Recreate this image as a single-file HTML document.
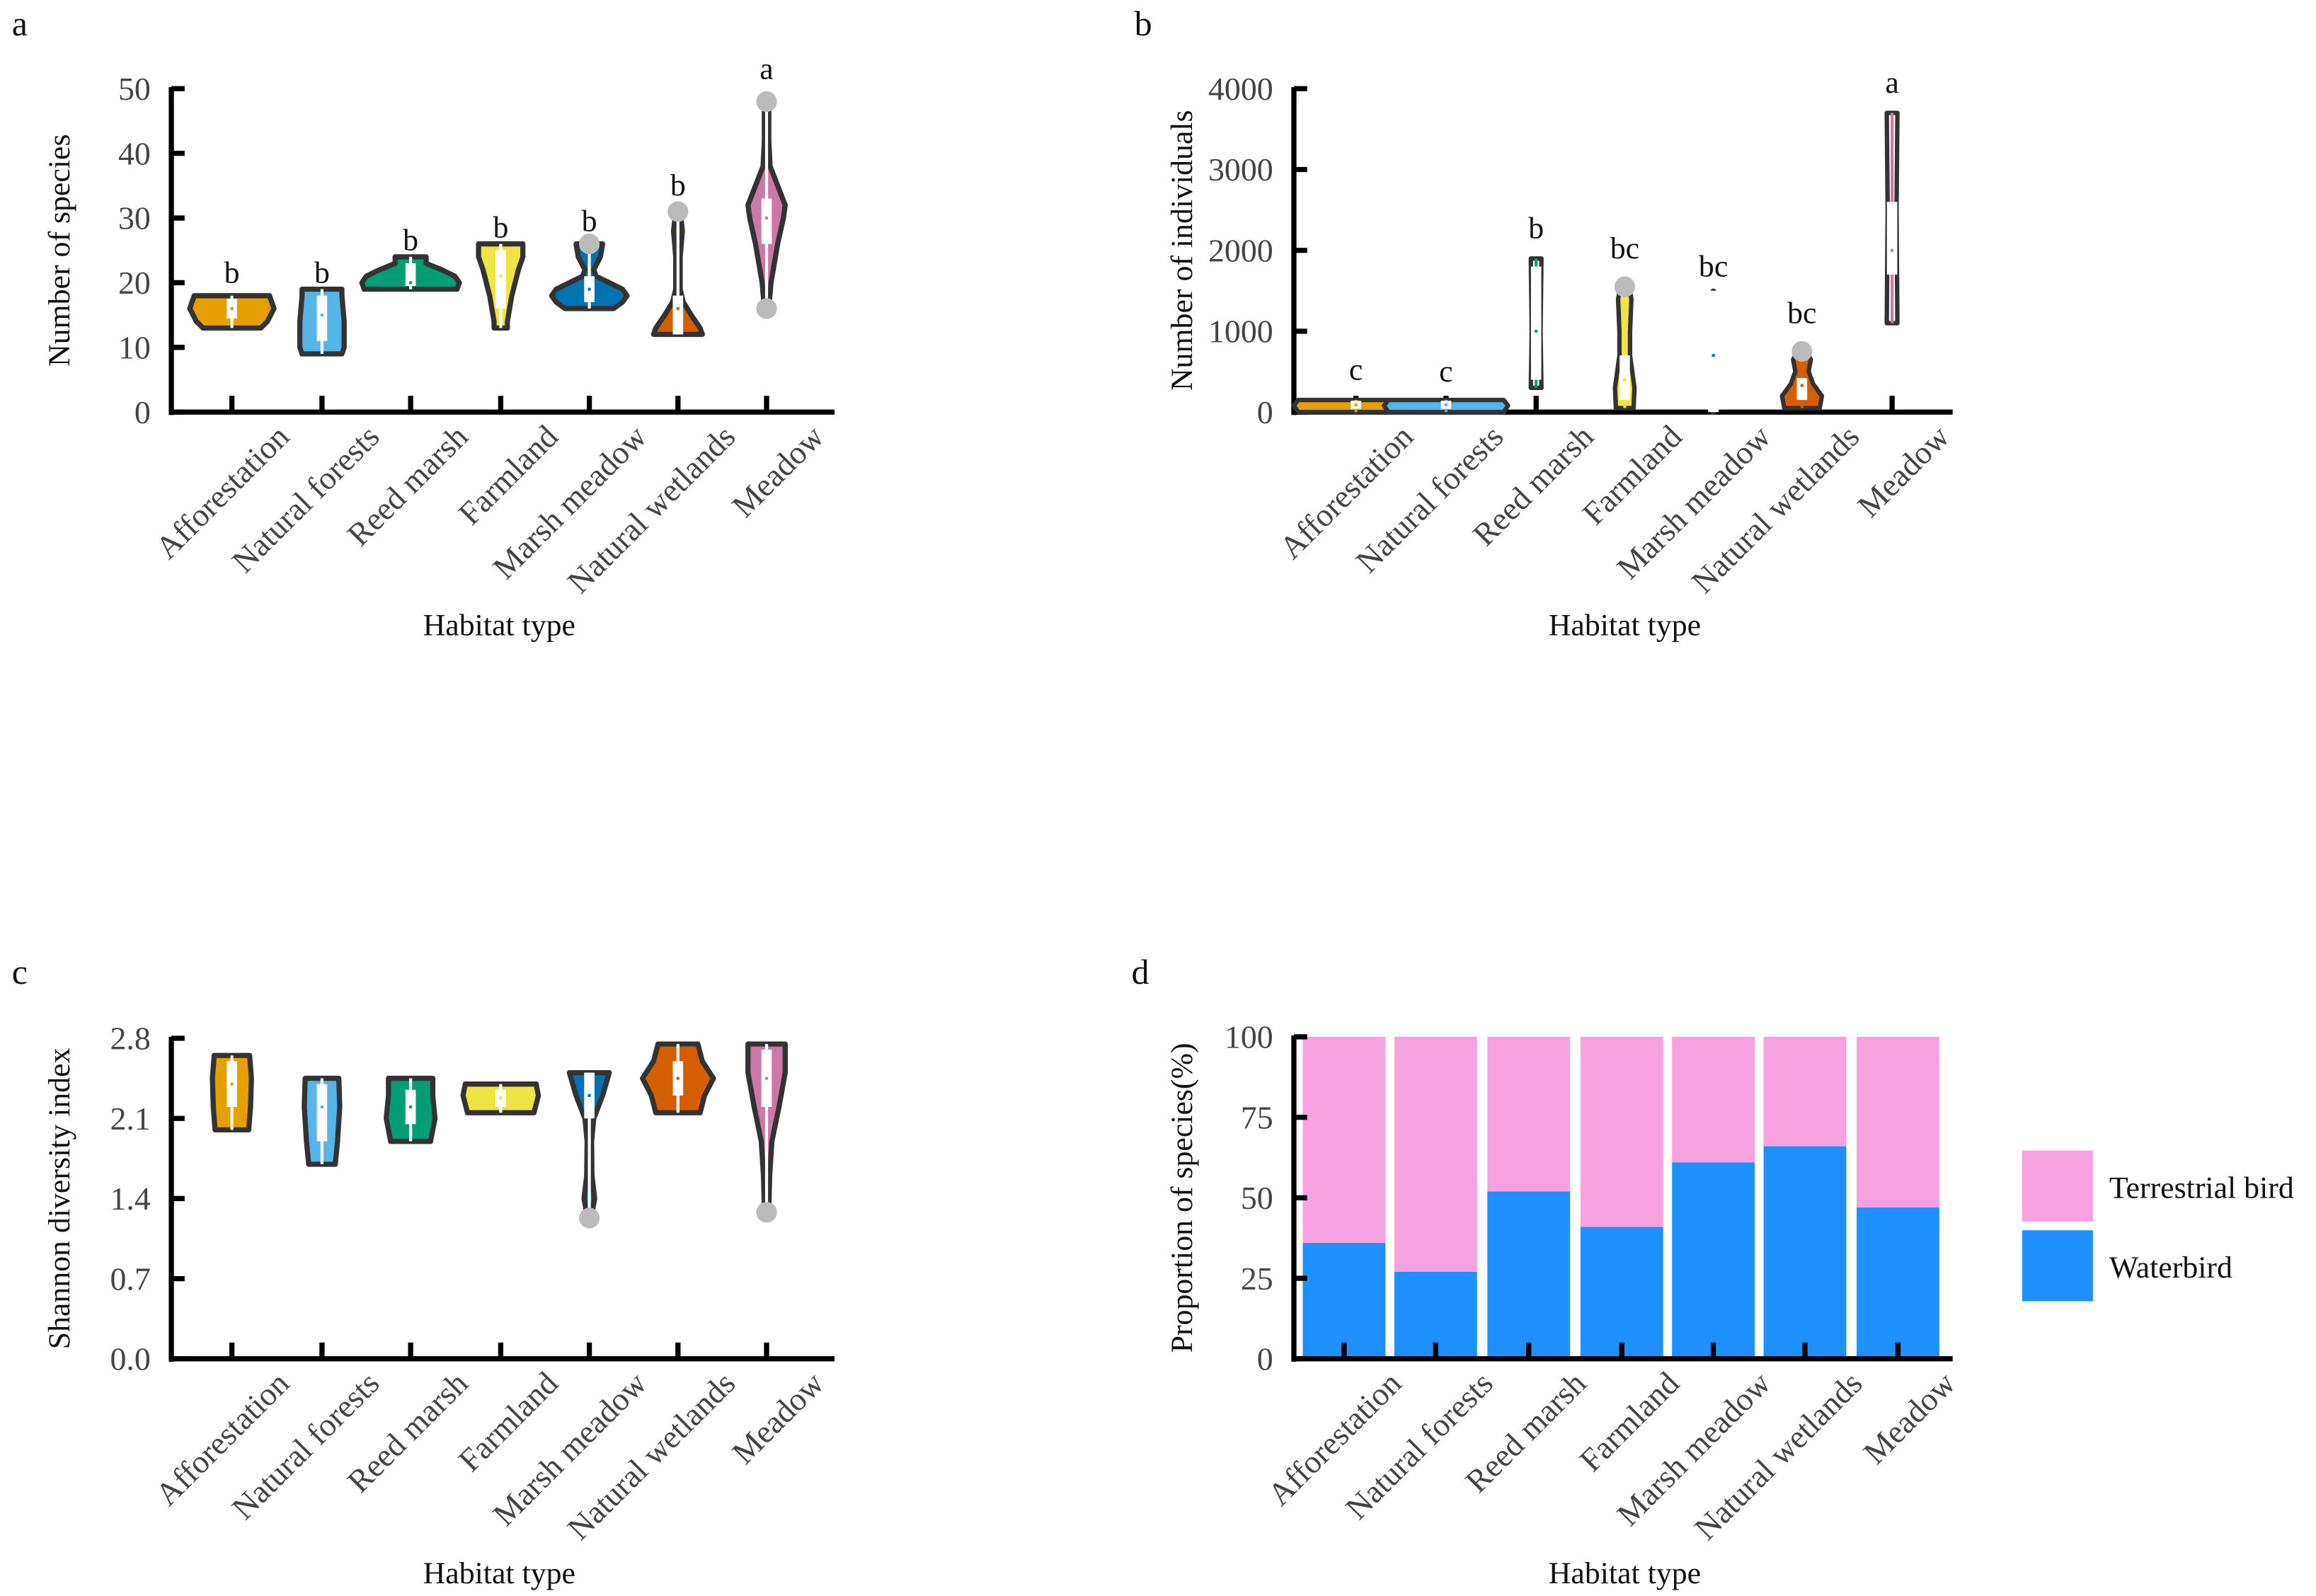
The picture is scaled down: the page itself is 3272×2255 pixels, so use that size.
<!DOCTYPE html>
<html><head><meta charset="utf-8"><style>
html,body{margin:0;padding:0;background:#fff;}
svg{display:block;font-family:"Liberation Serif",serif;}
</style></head><body>
<svg id="fig" width="3272" height="2255" viewBox="0 0 1568 1080.6" xmlns="http://www.w3.org/2000/svg">
<rect width="1568" height="1081" fill="#fff"/>
<g id="root"></g>
</svg>
<script>
const categories=["Afforestation","Natural forests","Reed marsh","Farmland","Marsh meadow","Natural wetlands","Meadow"];
const colors=["#e69f00","#56b4e9","#009e73","#f0e442","#0072b2","#d55e00","#cc79a7"];
// Panel a: violin profiles [value, relative density]
const speciesProfiles=[
 [[13,0.65],[14,0.8],[16,0.95],[17,0.9],[18,0.85]],
 [[9,0.45],[10,0.5],[14,0.5],[18,0.45],[19,0.45]],
 [[19,1.05],[20,1.1],[21,1.0],[22,0.7],[23,0.35],[24,0.35]],
 [[13,0.15],[14,0.15],[18,0.25],[22,0.4],[24,0.5],[26,0.5]],
 [[16,0.55],[17,0.75],[18,0.85],[19,0.75],[20,0.45],[21,0.15],[22,0.1],[24,0.25],[26,0.3]],
 [[12,0.55],[13,0.5],[15,0.3],[17,0.12],[19,0.05],[24,0.05],[28,0.1],[31,0.05]],
 [[16,0.05],[20,0.1],[26,0.25],[30,0.38],[32,0.42],[35,0.25],[38,0.08],[42,0.05],[48,0.05]]
];
const speciesBox=[[14.5,16,17.5],[11,15,18],[19.5,20,23],[16,21,25],[17,19,21],[12,16,18],[26,30,33]];
const speciesDots=[[],[],[],[],[26],[31],[48,16]];
const speciesLetters=["b","b","b","b","b","b","a"];
const speciesLetterY=[20,20,25,27,28,33.5,51.5];
const speciesTicks=[0,10,20,30,40,50];
// Panel b
const indivProfiles=[
 [[0,1.3],[80,1.4],[150,1.3]],
 [[0,1.3],[80,1.4],[150,1.3]],
 [[300,0.12],[1000,0.1],[1900,0.12]],
 [[50,0.2],[300,0.22],[700,0.12],[1000,0.12],[1400,0.15],[1550,0.1]],
 [[0,0.01],[1500,0.01]],
 [[50,0.4],[200,0.45],[350,0.25],[500,0.15],[650,0.2],[750,0.1]],
 [[1100,0.12],[2500,0.1],[3700,0.12]]
];
const indivBox=[[40,90,140],[40,90,140],[400,1000,1800],[150,400,700],[0,700,1500],[150,330,420],[1700,2000,2600]];
const indivDots=[[],[],[],[1550],[],[750],[]];
const indivLetters=["c","c","b","bc","bc","bc","a"];
const indivLetterY=[400,380,2150,1900,1680,1100,3950];
const indivTicks=[0,1000,2000,3000,4000];
const indivFill=[null,null,"#fff",null,"#fff",null,"#fff"];
// Panel c
const shannonProfiles=[
 [[2.0,0.38],[2.2,0.42],[2.45,0.44],[2.65,0.4]],
 [[1.7,0.3],[1.9,0.35],[2.2,0.4],[2.45,0.38]],
 [[1.9,0.45],[2.1,0.55],[2.3,0.5],[2.45,0.5]],
 [[2.15,0.75],[2.3,0.85],[2.4,0.8]],
 [[1.25,0.05],[1.4,0.12],[1.6,0.06],[1.9,0.05],[2.1,0.1],[2.3,0.3],[2.5,0.45]],
 [[2.15,0.5],[2.3,0.6],[2.45,0.8],[2.6,0.55],[2.75,0.45]],
 [[1.3,0.05],[1.6,0.07],[1.9,0.12],[2.2,0.28],[2.5,0.42],[2.75,0.42]]
];
const shannonBox=[[2.2,2.4,2.6],[1.9,2.2,2.4],[2.05,2.2,2.35],[2.2,2.28,2.35],[2.1,2.3,2.5],[2.3,2.45,2.6],[2.2,2.45,2.7]];
const shannonDots=[[],[],[],[],[1.23],[],[1.28]];
const shannonTicks=[0.0,0.7,1.4,2.1,2.8];
// Panel d
const waterbird=[36,27,52,41,61,66,47];
const terrestrial=[64,73,48,59,39,34,53];
const propTicks=[0,25,50,75,100];

const NS="http://www.w3.org/2000/svg";
const root=document.getElementById('root');
function el(tag,attrs,parent){const e=document.createElementNS(NS,tag);for(const k in attrs)e.setAttribute(k,attrs[k]);(parent||root).appendChild(e);return e;}
function txt(s,attrs,parent){const e=el('text',attrs,parent);e.textContent=s;return e;}

function axes(g,x0,x1,yTop,yBot,ticks,vmax,xs,ytitle,xtitleX,xtitleY,fmt){
 const ys=v=>yBot-(v/vmax)*(yBot-yTop);
 let a=el('line',{x1:x0,y1:yTop-1,x2:x0,y2:yBot+2,stroke:'#000','stroke-width':3.5},g);
 
 a=el('line',{x1:x0-1.5,y1:yBot,x2:x1,y2:yBot,stroke:'#000','stroke-width':3.5},g);
 
 ticks.forEach(t=>{
  const y=ys(t);
  const l=el('line',{x1:x0,y1:y,x2:x0+9,y2:y,stroke:'#000','stroke-width':3.5},g);
  
  const tl=txt(fmt(t),{x:x0-14,y:y+7.5,'text-anchor':'end','font-size':22,fill:'#444'},g);
  
 });
 xs.forEach((x,i)=>{
  const l=el('line',{x1:x,y1:yBot,x2:x,y2:yBot-11,stroke:'#000','stroke-width':3.5},g);
  
  const tl=txt(categories[i],{x:0,y:0,'text-anchor':'end','font-size':22,fill:'#444',transform:`translate(${x+40},${yBot+18}) rotate(-45)`},g);
  
 });
 const yt=txt(ytitle,{x:0,y:0,'text-anchor':'middle','font-size':21,fill:'#111',transform:`translate(${x0-69},${(yTop+yBot)/2}) rotate(-90)`},g);
 
 const xt=txt('Habitat type',{x:xtitleX,y:xtitleY,'text-anchor':'middle','font-size':21,fill:'#111'},g);
 
 return ys;
}

function violins(g,xs,ys,profiles,boxes,dots,scale,sw,fills,colorWhisker){
 profiles.forEach((p,i)=>{
  const cx=xs[i];
  const left=p.map(([v,w])=>[cx-w*scale,ys(v)]);
  const right=p.slice().reverse().map(([v,w])=>[cx+w*scale,ys(v)]);
  const pts=left.concat(right).map(q=>q[0].toFixed(1)+','+q[1].toFixed(1)).join(' ');
  const fill=(fills&&fills[i])?fills[i]:colors[i];
  const v=el('polygon',{points:pts,fill:fill,stroke:'#333','stroke-width':sw,'stroke-linejoin':'round'},g);
  
  
  const [q1,md,q3]=boxes[i];
  const mn=p[0][0],mx=p[p.length-1][0];
  const w=el('line',{x1:cx,y1:ys(mn),x2:cx,y2:ys(mx),stroke:colorWhisker?colors[i]:'#fff','stroke-width':2},g);
  
  const b=el('rect',{x:cx-3.5,y:ys(q3),width:7,height:Math.max(1,ys(q1)-ys(q3)),fill:'#fff'},g);
  
  const m=el('rect',{x:cx-1,y:ys(md)-1,width:2,height:2,fill:colors[i]},g);
  
  dots[i].forEach(d=>{
   const c=el('circle',{cx:cx,cy:ys(d),r:7,fill:'#bbb'},g);
   
  });
 });
}
function letters(g,xs,ys,ls,vals){
 ls.forEach((s,i)=>{
  const t=txt(s,{x:xs[i],y:ys(vals[i]),'text-anchor':'middle','font-size':21,fill:'#111'},g);
  
 });
}
function panelLabel(s,x,y){const t=txt(s,{x:x,y:y,'font-size':24,fill:'#111'});}

const xsLeft=[157,218,278,339,399,459,519];
const xsRight=[918,979,1040,1100,1160,1220,1281];

// Panel a
let ga=el('g',{});
panelLabel('a',8,24);
let ysA=axes(ga,116,565,60,279,speciesTicks,50,xsLeft,'Number of species',338,430,t=>String(t));
violins(ga,xsLeft,ysA,speciesProfiles,speciesBox,speciesDots,30,3.5,null,false);
letters(ga,xsLeft,ysA,speciesLetters,speciesLetterY);

// Panel b
let gb=el('g',{});
panelLabel('b',768,24);
let ysB=axes(gb,876,1322,60,279,indivTicks,4000,xsRight,'Number of individuals',1100,430,t=>String(t));
violins(gb,xsRight,ysB,indivProfiles,indivBox,indivDots,30,3,indivFill,true);
letters(gb,xsRight,ysB,indivLetters,indivLetterY);

// Panel c
let gc=el('g',{});
panelLabel('c',8,666);
let ysC=axes(gc,116,565,703,920,shannonTicks,2.8,xsLeft,'Shannon diversity index',338,1072,t=>t.toFixed(1));
violins(gc,xsLeft,ysC,shannonProfiles,shannonBox,shannonDots,30,3.5,null,false);

// Panel d
let gd=el('g',{});
panelLabel('d',766,666);
const xsBars=[910,972,1035,1098,1160,1222,1285];
const ysD=v=>920-(v/100)*(920-702);
const bw=56;
waterbird.forEach((v,i)=>{
 const r=el('rect',{x:xsBars[i]-bw/2,y:ysD(v),width:bw,height:ysD(0)-ysD(v),fill:'#1e90ff'},gd);
 
 const r2=el('rect',{x:xsBars[i]-bw/2,y:ysD(v+terrestrial[i]),width:bw,height:ysD(v)-ysD(v+terrestrial[i]),fill:'#f7a1e0'},gd);
 
});
axes(gd,876,1322,702,920,propTicks,100,xsBars,'Proportion of species(%)',1100,1072,t=>String(t));
// legend
let lg=el('g',{},gd);
let lr=el('rect',{x:1369,y:779,width:48,height:48,fill:'#f7a1e0'},lg);
let lt=txt('Terrestrial bird',{x:1428,y:811,'font-size':21,fill:'#111'},lg);
lr=el('rect',{x:1369,y:833,width:48,height:48,fill:'#1e90ff'},lg);
lt=txt('Waterbird',{x:1428,y:865,'font-size':21,fill:'#111'},lg);
</script>
</body></html>
